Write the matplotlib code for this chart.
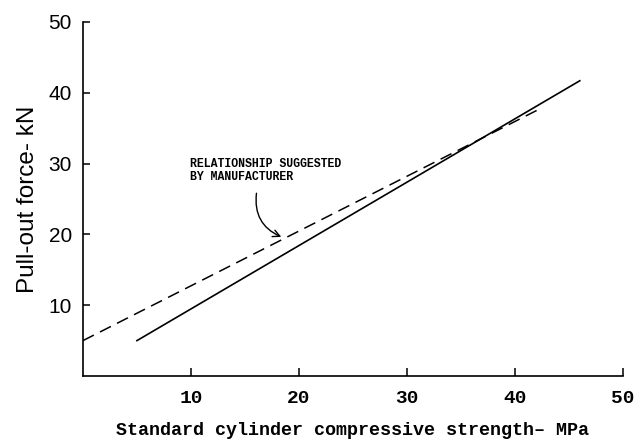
import matplotlib

matplotlib.use("Agg")
import matplotlib.pyplot as plt

# values
strength_solid = [5, 46]          # MPa
force_solid = [5, 41.7]           # kN
strength_maker = [0, 42]          # MPa, manufacturer's relationship
force_maker = [5, 37.5]           # kN
x_ticks = [10, 20, 30, 40, 50]
y_ticks = [10, 20, 30, 40, 50]
note_text = "RELATIONSHIP SUGGESTED\nBY MANUFACTURER"
note_xy = (9.9, 30.8)
arrow_from = (16.1, 26.2)
arrow_to = (18.6, 19.5)

fig = plt.figure(figsize=(6.38, 4.45), dpi=100)
ax = fig.add_axes([0.130, 0.155, 0.8465, 0.7956])

ax.plot(strength_solid, force_solid, color="black", lw=1.2)
ax.plot(strength_maker, force_maker, color="black", lw=1.1, linestyle=(0, (8, 4.5)))

ax.text(note_xy[0], note_xy[1], note_text, ha="left", va="top",
        family="Liberation Mono", fontweight="bold", fontsize=8.3, linespacing=1.1)
ax.annotate("", xy=arrow_to, xytext=arrow_from,
            arrowprops=dict(arrowstyle="->,head_length=0.5,head_width=0.25",
                            connectionstyle="arc3,rad=0.4", color="black", lw=1.0))

ax.set_xlim(0, 50)
ax.set_ylim(0, 50)
ax.set_xticks(x_ticks)
ax.set_yticks(y_ticks)

for side in ("top", "right"):
    ax.spines[side].set_visible(False)
for side in ("left", "bottom"):
    ax.spines[side].set_linewidth(1.2)

ax.tick_params(axis="x", direction="in", length=6, width=1.1, pad=10)
ax.tick_params(axis="y", direction="in", length=5, width=1.1, pad=8)
for lab in ax.get_xticklabels():
    lab.set_family("Liberation Mono")
    lab.set_fontweight("bold")
    lab.set_fontsize(14)
for lab in ax.get_yticklabels():
    lab.set_family("Liberation Sans")
    lab.set_fontsize(15)

ax.set_xlabel("Standard cylinder compressive strength\u2013 MPa",
              family="Liberation Mono", fontsize=13.2, fontweight="bold", labelpad=11)
ax.set_ylabel("Pull-out force- kN", family="Liberation Sans", fontsize=17.5, labelpad=7)

fig.savefig("out.png", dpi=100)
